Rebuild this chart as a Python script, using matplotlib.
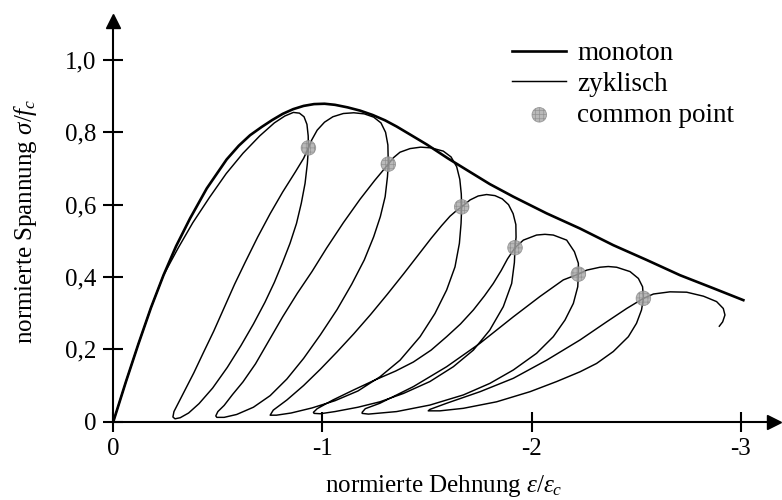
import matplotlib
matplotlib.use("Agg")
import matplotlib.pyplot as plt

plt.rcParams['font.family'] = 'Liberation Serif'
plt.rcParams['mathtext.fontset'] = 'custom'
plt.rcParams['mathtext.rm'] = 'Liberation Serif'
plt.rcParams['mathtext.it'] = 'Liberation Serif:italic'
plt.rcParams['hatch.linewidth'] = 0.5

# monotone Huellkurve (normierte Dehnung / normierte Spannung)
eps_mono = [0, -0.06, -0.12, -0.18, -0.24, -0.30, -0.367, -0.447, -0.542, -0.60,
            -0.654, -0.71, -0.76, -0.81, -0.86, -0.91, -0.96, -1.01, -1.06, -1.12,
            -1.18, -1.24, -1.30, -1.355, -1.419, -1.50, -1.60, -1.69, -1.80, -1.913,
            -2.072, -2.232, -2.391, -2.551, -2.710, -2.869, -3.013]
sig_mono = [0, 0.11, 0.215, 0.315, 0.405, 0.485, 0.562, 0.645, 0.725, 0.763,
            0.792, 0.815, 0.834, 0.851, 0.864, 0.873, 0.878, 0.879, 0.876, 0.869,
            0.86, 0.848, 0.833, 0.816, 0.794, 0.766, 0.728, 0.696, 0.657, 0.622,
            0.576, 0.534, 0.488, 0.447, 0.405, 0.369, 0.336]

# zyklische Kurve, Ent- und Wiederbelastungsaeste hintereinander
eps_cyc = [
    # Erstbelastung bis Spitze 1, Entlastung 1
    0, -0.06, -0.12, -0.18, -0.24, -0.31, -0.38, -0.46, -0.54, -0.62, -0.70, -0.77,
    -0.82, -0.861, -0.89, -0.912, -0.926, -0.932, -0.933,
    -0.928, -0.917, -0.899, -0.876, -0.845, -0.808, -0.77, -0.725, -0.67, -0.61,
    -0.545, -0.475, -0.41, -0.36, -0.32, -0.295, -0.285,
    # Wiederbelastung 1
    -0.29, -0.305, -0.34, -0.385, -0.43, -0.48, -0.53, -0.58, -0.63, -0.69, -0.75,
    -0.81, -0.87, -0.91, -0.933,
    # Spitze 2, Entlastung 2
    -0.949, -0.975, -1.01, -1.05, -1.10, -1.15, -1.20, -1.245, -1.28, -1.302, -1.313, -1.315,
    -1.311, -1.300, -1.277, -1.245, -1.20, -1.14, -1.07, -0.99, -0.91, -0.83, -0.75,
    -0.67, -0.59, -0.53, -0.495,
    # Wiederbelastung 2
    -0.49, -0.50, -0.53, -0.57, -0.62, -0.68, -0.74, -0.81, -0.88, -0.95, -1.02,
    -1.10, -1.18, -1.25, -1.315,
    # Spitze 3, Entlastung 3
    -1.34, -1.371, -1.419, -1.47, -1.52, -1.578, -1.615, -1.642, -1.657, -1.664, -1.666,
    -1.663, -1.655, -1.634, -1.594, -1.538, -1.467, -1.371, -1.275, -1.17, -1.06,
    -0.95, -0.85, -0.78, -0.75,
    # Wiederbelastung 3
    -0.765, -0.83, -0.91, -0.99, -1.07, -1.15, -1.23, -1.31, -1.39, -1.46, -1.52,
    -1.57, -1.61, -1.64, -1.666,
    # Spitze 4, Entlastung 4
    -1.706, -1.745, -1.785, -1.825, -1.86, -1.89, -1.912, -1.925, -1.926, -1.921,
    -1.918, -1.905, -1.865, -1.80, -1.722, -1.626, -1.514, -1.387, -1.275, -1.17,
    -1.06, -0.99, -0.96,
    # Wiederbelastung 4
    -0.957, -0.975, -1.05, -1.15, -1.25, -1.35, -1.435, -1.52, -1.594, -1.66, -1.722,
    -1.775, -1.817, -1.855, -1.885, -1.921,
    # Spitze 5, Entlastung 5
    -1.961, -2.024, -2.064, -2.104, -2.168, -2.205, -2.224, -2.224,
    -2.221, -2.200, -2.160, -2.104, -2.024, -1.913, -1.801, -1.674, -1.514, -1.355,
    -1.275, -1.22, -1.19,
    # Wiederbelastung 5
    -1.19, -1.205, -1.275, -1.435, -1.594, -1.754, -1.913, -2.040, -2.152, -2.224,
    # Spitze 6, Entlastung 6
    -2.264, -2.327, -2.367, -2.407, -2.471, -2.511, -2.531, -2.535,
    -2.526, -2.502, -2.463, -2.391, -2.311, -2.232, -2.120, -1.993, -1.833, -1.674,
    -1.562, -1.506,
    # Wiederbelastung 6
    -1.514, -1.594, -1.754, -1.913, -2.072, -2.232, -2.359, -2.455, -2.535,
    # letzte Spitze
    -2.583, -2.662, -2.742, -2.822, -2.885, -2.917, -2.925, -2.914, -2.898,
]
sig_cyc = [
    0, 0.11, 0.215, 0.315, 0.405, 0.48, 0.55, 0.62, 0.686, 0.742, 0.79, 0.826,
    0.845, 0.855, 0.853, 0.843, 0.822, 0.79, 0.757,
    0.714, 0.659, 0.604, 0.548, 0.493, 0.438, 0.385, 0.33, 0.27, 0.21,
    0.15, 0.093, 0.05, 0.024, 0.011, 0.008, 0.013,
    0.028, 0.045, 0.085, 0.135, 0.19, 0.25, 0.315, 0.38, 0.44, 0.51, 0.575,
    0.635, 0.69, 0.728, 0.757,
    0.779, 0.806, 0.828, 0.843, 0.852, 0.854, 0.851, 0.842, 0.826, 0.80, 0.765, 0.712,
    0.677, 0.622, 0.567, 0.511, 0.447, 0.38, 0.31, 0.24, 0.175, 0.118, 0.072,
    0.04, 0.02, 0.012, 0.012,
    0.016, 0.028, 0.045, 0.075, 0.11, 0.16, 0.22, 0.29, 0.355, 0.415, 0.48,
    0.55, 0.615, 0.667, 0.712,
    0.73, 0.745, 0.755, 0.759, 0.757, 0.748, 0.732, 0.705, 0.67, 0.63, 0.594,
    0.548, 0.493, 0.428, 0.364, 0.299, 0.235, 0.17, 0.124, 0.085, 0.058,
    0.038, 0.024, 0.018, 0.018,
    0.032, 0.06, 0.10, 0.145, 0.193, 0.243, 0.296, 0.352, 0.41, 0.462, 0.507,
    0.542, 0.568, 0.583, 0.594,
    0.613, 0.624, 0.628, 0.625, 0.616, 0.60, 0.575, 0.545, 0.51, 0.481,
    0.44, 0.382, 0.318, 0.253, 0.198, 0.152, 0.111, 0.078, 0.055, 0.04,
    0.028, 0.022, 0.023,
    0.026, 0.036, 0.06, 0.088, 0.115, 0.14, 0.165, 0.198, 0.235, 0.27, 0.309,
    0.348, 0.382, 0.418, 0.45, 0.481,
    0.502, 0.516, 0.518, 0.516, 0.502, 0.47, 0.438, 0.408,
    0.373, 0.327, 0.281, 0.235, 0.189, 0.143, 0.106, 0.074, 0.046, 0.028,
    0.024, 0.021, 0.023,
    0.026, 0.036, 0.051, 0.097, 0.152, 0.217, 0.290, 0.346, 0.392, 0.408,
    0.419, 0.427, 0.429, 0.427, 0.415, 0.396, 0.373, 0.341,
    0.309, 0.272, 0.235, 0.194, 0.161, 0.138, 0.111, 0.083, 0.055, 0.037,
    0.030, 0.030,
    0.034, 0.051, 0.083, 0.120, 0.170, 0.226, 0.276, 0.313, 0.341,
    0.353, 0.359, 0.358, 0.347, 0.332, 0.313, 0.295, 0.276, 0.264,
]

# gemeinsame Punkte
eps_common = [-0.933, -1.315, -1.666, -1.921, -2.224, -2.535]
sig_common = [0.757, 0.712, 0.594, 0.481, 0.408, 0.341]

x_ticks = [0, -1, -2, -3]
x_ticklabels = ['0', '-1', '-2', '-3']
y_ticks = [0, 0.2, 0.4, 0.6, 0.8, 1.0]
y_ticklabels = ['0', '0,2', '0,4', '0,6', '0,8', '1,0']

fig = plt.figure(figsize=(7.82, 5.0), dpi=100)
ax = fig.add_axes([0.1449, 0.1566, 0.845, 0.8016])

ax.plot(eps_mono, sig_mono, color='black', lw=1.9, label='monoton', solid_joinstyle='round')
ax.plot(eps_cyc, sig_cyc, color='black', lw=1.05, label='zyklisch', solid_joinstyle='round')
ax.scatter(eps_common, sig_common, s=110, facecolor='#a8a8a8', edgecolor='#8a8a8a',
           hatch='++++', linewidth=0.6, alpha=0.8, zorder=3, label='common point')

ax.set_xlim(0, -3.16)
ax.set_ylim(0, 1.108)

for s in ['top', 'right']:
    ax.spines[s].set_visible(False)
for s in ['left', 'bottom']:
    ax.spines[s].set_linewidth(1.5)

# Pfeilspitzen an den Achsen
ax.plot(1, 0, '>', color='black', ms=10, transform=ax.transAxes, clip_on=False)
ax.plot(0, 1, '^', color='black', ms=10, transform=ax.transAxes, clip_on=False)

ax.set_xticks(x_ticks, labels=x_ticklabels)
ax.set_yticks(y_ticks, labels=y_ticklabels)
ax.tick_params(direction='inout', length=14, width=1.5, labelsize=18, pad=5)

ax.set_xlabel('normierte Dehnung $\\varepsilon/\\varepsilon_c$', fontsize=18, labelpad=9)
ax.set_ylabel('normierte Spannung $\\sigma/f_c$', fontsize=18)
ax.yaxis.set_label_coords(-0.112, 0.5)

ax.legend(loc='upper left', bbox_to_anchor=(0.655, 0.918), bbox_transform=fig.transFigure,
          frameon=False, handlelength=2.0, handletextpad=0.4, labelspacing=0.22,
          borderpad=0, borderaxespad=0, fontsize=19.5)

fig.savefig('out.png', dpi=100)
